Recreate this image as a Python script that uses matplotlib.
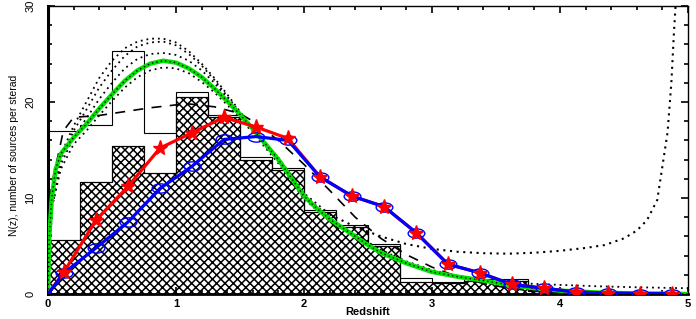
import numpy as np
import matplotlib
matplotlib.use("Agg")
import matplotlib.pyplot as plt
from matplotlib.path import Path
from matplotlib.transforms import Affine2D
from matplotlib.ticker import MultipleLocator

plt.rcParams["font.family"] = ["Liberation Sans", "DejaVu Sans"]
plt.rcParams["hatch.linewidth"] = 1.1

# histogram bins (width 0.25)
bin_edges = np.arange(0, 4.01, 0.25)
hist_open = [17.0, 17.6, 25.3, 16.8, 21.0, 18.6, 14.3, 13.1,
             8.8, 7.2, 5.2, 1.7, 1.2, 1.6, 1.6, 0.4]
hist_hatch = [5.6, 11.7, 15.4, 12.6, 20.5, 18.4, 14.0, 12.9,
              8.5, 7.0, 5.0, 1.3, 1.1, 1.4, 1.4, 0.3]

# measured points (red stars / blue ellipses)
z_pts = [0.0, 0.125, 0.375, 0.625, 0.875, 1.125, 1.375, 1.625, 1.875, 2.125,
         2.375, 2.625, 2.875, 3.125, 3.375, 3.625, 3.875, 4.125, 4.375,
         4.625, 4.875]
n_red = [0.0, 2.3, 7.7, 11.2, 15.2, 16.8, 18.4, 17.4, 16.2, 12.2, 10.2, 9.1,
         6.4, 3.1, 2.2, 1.0, 0.6, 0.2, 0.1, 0.05, 0.05]
n_blue = [0.0, 2.2, 4.8, 7.5, 11.0, 13.3, 16.1, 16.4, 16.0, 12.2, 10.2, 9.1,
          6.4, 3.1, 2.2, 1.0, 0.6, 0.2, 0.1, 0.05, 0.05]

# green model curve
z_green = [0.0, 0.01, 0.03, 0.06, 0.1, 0.2, 0.3, 0.4, 0.5, 0.6, 0.7, 0.8,
           0.9, 1.0, 1.1, 1.2, 1.3, 1.4, 1.5, 1.6, 1.7, 1.8, 1.9, 2.0, 2.1,
           2.2, 2.3, 2.4, 2.5, 2.6, 2.8, 3.0, 3.2, 3.4, 3.6, 3.8, 4.0, 4.3,
           4.6, 5.0]
n_green = [0.0, 6.0, 10.0, 13.0, 14.6, 16.3, 17.7, 19.3, 20.8, 22.2, 23.3,
           24.0, 24.3, 24.1, 23.5, 22.6, 21.4, 20.1, 18.7, 17.2, 15.6, 14.0,
           12.1, 10.2, 8.9, 7.8, 6.9, 6.0, 5.1, 4.3, 3.2, 2.3, 1.8, 1.4,
           0.95, 0.6, 0.35, 0.15, 0.05, 0.0]

# dotted model curves
z_dot = [0.0, 0.03, 0.1, 0.2, 0.3, 0.4, 0.5, 0.6, 0.7, 0.8, 0.9, 1.0, 1.1,
         1.2, 1.3, 1.4, 1.5, 1.6, 1.8, 2.0, 2.2]
n_dot1 = [0.0, 9.0, 14.5, 17.5, 20.0, 22.5, 24.3, 25.6, 26.3, 26.6, 26.6,
          26.2, 25.3, 24.0, 22.5, 20.8, 19.0, 17.3, 14.2, 10.5, 8.3]
n_dot2 = [0.0, 9.0, 14.0, 17.0, 19.2, 21.5, 23.3, 24.8, 25.8, 26.2, 26.3,
          25.9, 25.0, 23.8, 22.3, 20.6, 18.9, 17.2, 14.0, 10.3, 8.0]
n_dot3 = [0.0, 9.0, 13.5, 16.3, 18.3, 20.3, 22.0, 23.5, 24.5, 25.0, 25.1,
          24.9, 24.3, 23.3, 22.0, 20.4, 18.7, 17.0, 13.8, 10.1, 7.8]
n_dot4 = [0.0, 9.0, 13.0, 15.6, 17.0, 18.6, 20.1, 21.5, 22.6, 23.3, 23.6,
          23.5, 23.0, 22.1, 21.0, 19.7, 18.3, 16.8, 13.6, 9.9, 7.6]

z_tail = [2.2, 2.4, 2.6, 2.8, 3.0, 3.2, 3.4, 3.6, 3.8, 4.0, 4.2, 4.35, 4.5,
          4.6, 4.68, 4.76, 4.8, 4.84, 4.87, 4.89, 4.905]
n_tail = [8.3, 7.0, 6.0, 5.2, 4.7, 4.4, 4.25, 4.2, 4.3, 4.5, 4.8, 5.1, 5.8,
          6.6, 7.7, 9.8, 13.3, 16.8, 22.0, 27.2, 30.5]
z_low = [2.2, 2.4, 2.6, 2.8, 3.0, 3.2, 3.4, 3.6, 3.8, 4.0, 4.3, 4.6, 5.0]
n_low = [7.6, 6.2, 4.6, 3.4, 2.5, 1.9, 1.5, 1.2, 1.05, 0.95, 0.8, 0.7, 0.6]

# dashed model curve
z_dash = [0.0, 0.03, 0.08, 0.12, 0.2, 0.4, 0.6, 0.8, 1.0, 1.1, 1.3, 1.5, 1.6,
          1.8, 2.0, 2.2, 2.4, 2.6, 2.8, 3.0, 3.2, 3.4, 3.6, 3.8, 4.0]
n_dash = [8.0, 11.5, 14.5, 17.0, 18.4, 18.6, 19.0, 19.4, 19.7, 19.8, 19.5,
          18.8, 18.0, 16.0, 13.5, 10.8, 8.0, 5.8, 4.1, 2.8, 1.8, 1.1, 0.6,
          0.3, 0.15]

fig = plt.figure(figsize=(6.96, 3.19), dpi=100)
ax = fig.add_axes([48 / 696, 25 / 319, 640 / 696, 288 / 319])

ax.stairs(hist_hatch, bin_edges, fill=True, facecolor="white",
          edgecolor="black", hatch="xxxx", linewidth=0.8, zorder=1)
ax.stairs(hist_hatch, bin_edges, color="black", linewidth=0.8, zorder=1.5)
ax.stairs(hist_open, bin_edges, color="black", linewidth=0.8, zorder=1.5)

dots = (0, (1, 2.2))
for nd in [n_dot1, n_dot2, n_dot3, n_dot4]:
    ax.plot(z_dot, nd, color="black", linestyle=dots, linewidth=1.3, zorder=2)
ax.plot(z_tail, n_tail, color="black", linestyle=dots, linewidth=1.5, zorder=2)
ax.plot(z_low, n_low, color="black", linestyle=dots, linewidth=1.3, zorder=2)
ax.plot(z_dash, n_dash, color="black", linestyle=(0, (6, 5)), linewidth=1.2,
        zorder=2)

ax.plot(z_green, n_green, color="#00e000", linewidth=3.2, zorder=3)
ax.plot(z_green, n_green, color="black", linestyle=dots, linewidth=1.0,
        zorder=3.1)

ellipse = Path.unit_circle().transformed(Affine2D().scale(1.8, 1.0))
ax.plot(z_pts, n_red, color="red", linewidth=2.3, zorder=4)
ax.plot(z_pts, n_blue, color="blue", linewidth=2.3, marker=ellipse,
        markersize=12, markerfacecolor="none", markeredgecolor="blue",
        markeredgewidth=1.0, markevery=slice(1, None), zorder=5)
ax.plot(z_pts[1:], n_red[1:], linestyle="none", marker="*", markersize=11,
        color="red", markeredgecolor="red", zorder=6)

ax.set_xlim(0, 5)
ax.set_ylim(0, 30)
ax.xaxis.set_major_locator(MultipleLocator(1))
ax.xaxis.set_minor_locator(MultipleLocator(0.2))
ax.yaxis.set_major_locator(MultipleLocator(10))
ax.yaxis.set_minor_locator(MultipleLocator(2))
ax.tick_params(which="both", direction="in", top=True, right=True,
               labelsize=8, width=1.2)
ax.tick_params(which="major", length=5)
ax.tick_params(which="minor", length=3)
ax.tick_params(axis="y", pad=9)
for lab in ax.get_xticklabels():
    lab.set_fontweight("bold")
for lab in ax.get_yticklabels():
    lab.set_rotation(90)
    lab.set_va("center")

ax.spines["left"].set_linewidth(2.2)
ax.spines["bottom"].set_linewidth(2.0)
ax.spines["top"].set_linewidth(1.0)
ax.spines["right"].set_linewidth(1.0)

ax.set_xlabel("Redshift", fontsize=8, fontweight="bold")
ax.xaxis.set_label_coords(0.5, -0.045)
ax.set_ylabel("N(z), number of sources per sterad", fontsize=7.5)
ax.yaxis.set_label_coords(-0.045, 0.48)

fig.savefig("out.png", dpi=100)
